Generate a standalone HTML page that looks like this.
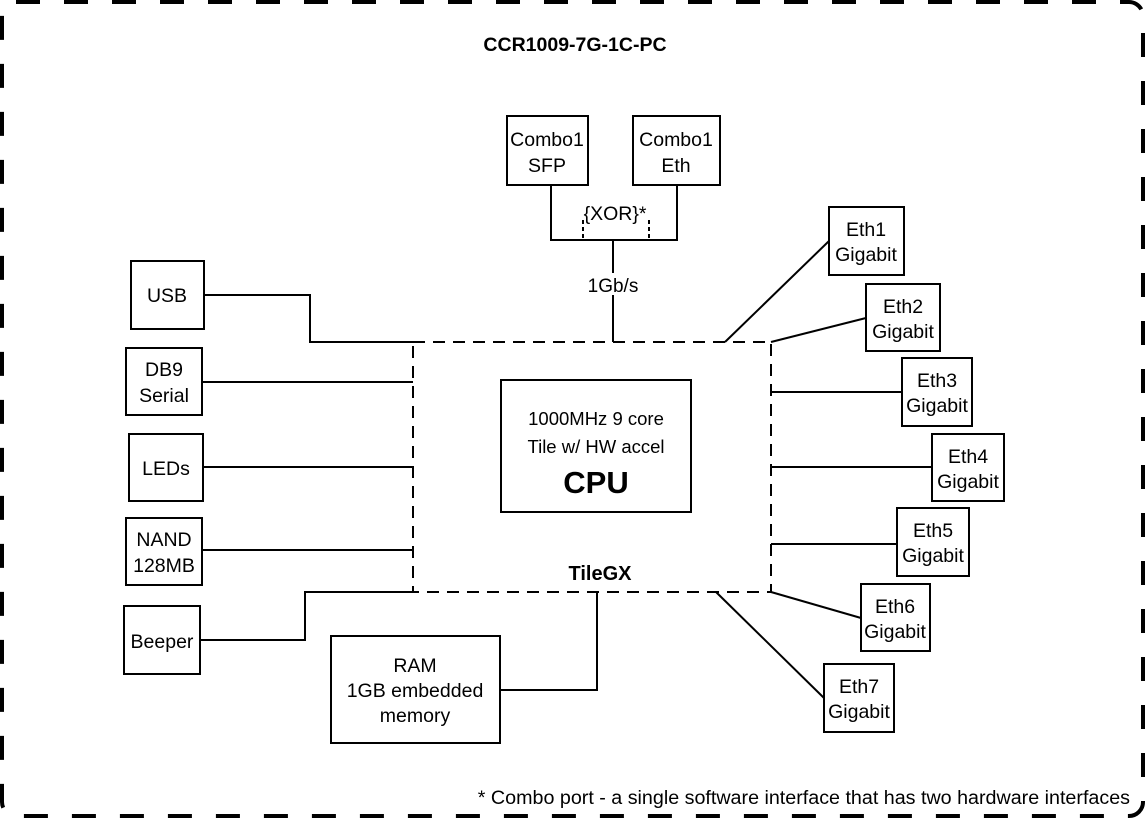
<!DOCTYPE html>
<html><head><meta charset="utf-8"><style>
html,body{margin:0;padding:0;background:#fff}
svg{display:block}
text{font-family:"Liberation Sans",Arial,sans-serif;fill:#000}
</style></head><body>
<svg width="1147" height="820" viewBox="0 0 1147 820">
<rect x="2" y="2" width="1141" height="814" rx="14" fill="none" stroke="#000" stroke-width="4" stroke-dasharray="24 24"/>
<text x="575" y="51" font-size="19.5" font-weight="bold" text-anchor="middle">CCR1009-7G-1C-PC</text>
<g fill="none" stroke="#000" stroke-width="2">
<rect x="507" y="116" width="81" height="69"/>
<rect x="633" y="116" width="87" height="69"/>
<polyline points="551,185 551,240 677,240 677,185"/>
<line x1="613" y1="240" x2="613" y2="342"/>
<line x1="583" y1="220" x2="583" y2="240" stroke-dasharray="4 3"/>
<line x1="649" y1="220" x2="649" y2="240" stroke-dasharray="4 3"/>
<rect x="413" y="342" width="358" height="250" stroke-dasharray="12 8"/>
<rect x="501" y="380" width="190" height="132"/>
<rect x="131" y="261" width="73" height="68"/>
<rect x="126" y="348" width="76" height="67"/>
<rect x="129" y="434" width="74" height="67"/>
<rect x="126" y="518" width="76" height="67"/>
<rect x="124" y="606" width="76" height="68"/>
<rect x="331" y="636" width="169" height="107"/>
<polyline points="204,295 310,295 310,342 413,342"/>
<line x1="202" y1="382" x2="413" y2="382"/>
<line x1="203" y1="467" x2="413" y2="467"/>
<line x1="202" y1="550" x2="413" y2="550"/>
<polyline points="200,640 305,640 305,592 413,592"/>
<polyline points="500,690 597,690 597,592"/>
<rect x="829" y="207" width="75" height="68"/>
<rect x="866" y="284" width="74" height="67"/>
<rect x="902" y="358" width="70" height="68"/>
<rect x="932" y="434" width="72" height="67"/>
<rect x="897" y="508" width="72" height="68"/>
<rect x="861" y="584" width="69" height="67"/>
<rect x="824" y="664" width="70" height="68"/>
<line x1="725" y1="342" x2="829" y2="241"/>
<line x1="771" y1="342" x2="866" y2="318"/>
<line x1="771" y1="392" x2="902" y2="392"/>
<line x1="771" y1="467" x2="932" y2="467"/>
<line x1="771" y1="544" x2="897" y2="544"/>
<line x1="771" y1="592" x2="861" y2="618"/>
<line x1="716" y1="592" x2="824" y2="698"/>
</g>
<rect x="586" y="204" width="58" height="18" fill="#fff"/>
<rect x="586" y="273" width="54" height="22" fill="#fff"/>
<g font-size="19.5" text-anchor="middle">
<text x="547" y="146">Combo1</text><text x="547" y="172">SFP</text>
<text x="676" y="146">Combo1</text><text x="676" y="172">Eth</text>
<text x="615" y="220">{XOR}*</text>
<text x="613" y="292" font-size="19">1Gb/s</text>
<text x="596" y="425" font-size="18.5">1000MHz 9 core</text>
<text x="596" y="453" font-size="18.5">Tile w/ HW accel</text>
<text x="596" y="493" font-size="31" font-weight="bold">CPU</text>
<text x="600" y="580" font-size="20" font-weight="bold">TileGX</text>
<text x="167" y="302">USB</text>
<text x="164" y="376">DB9</text><text x="164" y="402">Serial</text>
<text x="166" y="475">LEDs</text>
<text x="164" y="546">NAND</text><text x="164" y="572">128MB</text>
<text x="162" y="648">Beeper</text>
<text x="415" y="672">RAM</text><text x="415" y="697">1GB embedded</text><text x="415" y="722">memory</text>
<text x="866" y="236">Eth1</text><text x="866" y="261">Gigabit</text>
<text x="903" y="313">Eth2</text><text x="903" y="338">Gigabit</text>
<text x="937" y="387">Eth3</text><text x="937" y="412">Gigabit</text>
<text x="968" y="463">Eth4</text><text x="968" y="488">Gigabit</text>
<text x="933" y="537">Eth5</text><text x="933" y="562">Gigabit</text>
<text x="895" y="613">Eth6</text><text x="895" y="638">Gigabit</text>
<text x="859" y="693">Eth7</text><text x="859" y="718">Gigabit</text>
</g>
<text x="1130" y="804" font-size="19.7" text-anchor="end">* Combo port - a single software interface that has two hardware interfaces</text>
</svg>
</body></html>
